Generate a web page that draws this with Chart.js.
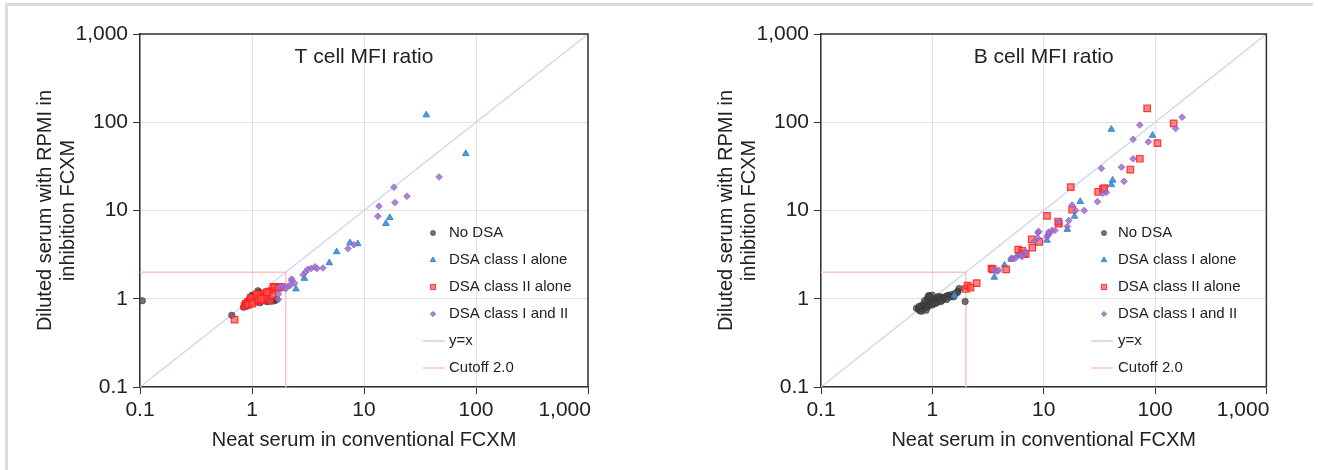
<!DOCTYPE html>
<html>
<head>
<meta charset="utf-8">
<script src="https://cdn.jsdelivr.net/npm/chart.js@4.4.1/dist/chart.umd.min.js"></script>
<style>
  body { margin: 0; background: #fff; }
  #page { position: relative; width: 1320px; height: 470px; overflow: hidden; }
  #frame { position: absolute; left: 5px; top: 3px; width: 1305px; height: 480px;
           border-left: 3px solid #dcdcdc; border-top: 3px solid #dcdcdc; }
  canvas { position: absolute; top: 0; }
</style>
</head>
<body>
<div id="page">
  <div id="frame"></div>
  <canvas id="tChart" width="660" height="470" style="left:0px"></canvas>
  <canvas id="bChart" width="639" height="470" style="left:681px"></canvas>
</div>
<script>

// axis ticks (same on both axes, both panels)
const tickValues = [0.1, 1, 10, 100, 1000];
const tickLabels = ['0.1', '1', '10', '100', '1,000'];

const legendLabels = ['No DSA', 'DSA class I alone', 'DSA class II alone', 'DSA class I and II', 'y=x', 'Cutoff 2.0'];
const cutoffValue = 2.0;

// ---- T cell MFI ratio ----
const tNoDsaX = [0.105, 0.66, 0.84, 0.86, 0.88, 0.9, 0.92, 0.95, 0.96, 0.98, 1.0, 1.0, 1.02, 1.05, 1.08, 1.1, 1.13, 1.16, 1.2, 1.25, 1.3, 1.35, 1.4, 1.45, 1.5, 1.55, 1.6, 1.66, 0.9, 0.94, 0.97, 1.03, 1.07, 1.12, 1.18, 1.22, 1.28];
const tNoDsaY = [0.95, 0.65, 0.8, 0.84, 0.82, 0.88, 0.86, 0.92, 1.04, 0.95, 1.1, 0.98, 1.02, 1.0, 1.06, 0.96, 1.23, 1.18, 1.05, 1.0, 1.1, 0.93, 0.93, 0.96, 0.94, 0.97, 0.95, 0.99, 0.9, 0.97, 1.0, 1.08, 0.92, 1.02, 0.9, 0.95, 1.02];

const tClass1X = [2.47, 2.93, 4.9, 5.7, 7.5, 8.8, 15.7, 17, 36, 81];
const tClass1Y = [1.29, 1.7, 2.55, 3.4, 4.3, 4.2, 7.1, 8.3, 121, 44];

const tClass2X = [0.70, 0.86, 0.88, 0.9, 0.92, 0.95, 0.97, 1.0, 1.02, 1.05, 1.08, 1.1, 1.12, 1.15, 1.18, 1.2, 1.25, 1.3, 1.35, 1.4, 1.45, 1.5, 1.52, 1.55, 1.6, 1.72, 1.84, 0.93, 0.98, 1.06, 1.14, 1.22, 1.28, 1.36, 1.0, 1.1, 1.2];
const tClass2Y = [0.58, 0.83, 0.88, 0.85, 0.92, 0.9, 0.96, 0.94, 1.0, 0.97, 1.05, 1.0, 1.08, 1.02, 1.1, 1.05, 1.12, 1.15, 1.1, 1.2, 0.95, 1.23, 1.1, 1.36, 1.36, 1.33, 1.36, 0.86, 1.02, 0.92, 0.98, 0.96, 1.03, 1.18, 0.88, 1.12, 1.0];

const tBothX = [1.72, 1.72, 1.78, 1.9, 2.1, 2.26, 2.4, 2.26, 2.2, 2.0, 2.86, 3.0, 3.14, 3.37, 3.65, 3.8, 4.3, 7.2, 8.1, 13.3, 13.6, 18.9, 18.5, 24.2, 46.8];
const tBothY = [0.98, 1.13, 1.36, 1.36, 1.39, 1.6, 1.5, 1.67, 1.42, 1.3, 1.87, 2.0, 2.16, 2.2, 2.3, 2.2, 2.23, 3.7, 4.1, 8.6, 11.2, 12.3, 18.4, 14.5, 24];

// ---- B cell MFI ratio ----
const bNoDsaX = [0.72, 0.75, 0.77, 0.78, 0.8, 0.82, 0.83, 0.85, 0.86, 0.88, 0.9, 0.91, 0.92, 0.94, 0.95, 0.97, 0.98, 1.0, 1.02, 1.04, 1.06, 1.08, 1.1, 1.12, 1.15, 1.18, 1.2, 1.25, 1.3, 1.35, 1.4, 1.5, 1.6, 1.7, 1.74, 1.68, 1.97, 0.94, 0.8, 0.87, 0.93, 0.99, 1.05, 1.13, 1.22, 0.76, 0.84, 0.9, 0.96, 1.01, 1.09, 1.16, 1.28, 1.45,
                 0.85, 0.9, 0.95, 1.0, 1.05, 0.8, 0.88, 1.1, 1.2, 1.0, 0.92, 1.35, 1.55];
const bNoDsaY = [0.78, 0.76, 0.73, 0.8, 0.78, 0.82, 0.76, 0.84, 0.8, 0.86, 0.85, 0.9, 0.82, 0.88, 0.92, 0.9, 0.95, 0.92, 0.98, 0.95, 1.0, 0.97, 1.02, 0.98, 1.04, 1.0, 1.05, 1.02, 1.05, 1.08, 1.1, 1.12, 1.15, 1.22, 1.31, 1.18, 0.93, 1.08, 0.84, 0.8, 0.94, 0.88, 0.93, 1.06, 0.96, 0.82, 0.88, 0.8, 0.86, 1.0, 0.92, 0.96, 1.0, 1.05,
                 0.95, 1.0, 1.05, 0.85, 0.88, 0.72, 0.74, 0.9, 0.93, 1.1, 1.08, 0.98, 1.05];

const bClass1X = [1.58, 3.6, 4.45, 5.1, 5.8, 10.7, 16.3, 18.9, 21.3, 40.5, 41.6, 40.5, 95];
const bClass1Y = [1.09, 1.75, 2.4, 2.8, 3.1, 4.6, 6.1, 8.6, 12.6, 19.6, 22, 83, 71];

const bClass2X = [2.0, 2.07, 2.2, 2.5, 3.4, 3.5, 4.6, 5.9, 6.4, 6.9, 6.6, 7.8, 9.1, 7.9, 10.7, 13.7, 13.5, 17.5, 18, 30.8, 34, 35, 60, 73, 85, 105, 147];
const bClass2Y = [1.29, 1.41, 1.34, 1.5, 2.2, 2.15, 2.15, 3.6, 3.5, 3.2, 3.25, 4.7, 4.4, 3.8, 8.7, 7.1, 7.5, 18.4, 10.2, 16.3, 17.5, 17.9, 29, 38.6, 144, 58, 97];

const bBothX = [3.6, 3.8, 3.95, 5.1, 5.3, 5.6, 6.2, 6.4, 6.9, 8.3, 8.8, 8.9, 9.0, 10.7, 10.9, 11.2, 11.1, 11.9, 12.6, 13.7, 16.3, 16.8, 18, 19.4, 23.1, 30.4, 33, 34, 36.6, 50, 52.6, 63.6, 63.6, 73, 87, 153, 175];
const bBothY = [2.1, 2.05, 2.1, 2.85, 2.85, 2.9, 3.1, 3.0, 3.4, 4.5, 4.9, 5.6, 5.8, 5.0, 5.3, 5.4, 5.7, 5.95, 5.95, 7.5, 6.6, 7.7, 11.5, 10, 10, 12.6, 30, 15.7, 16, 31, 21.4, 38.6, 64, 93, 60, 85, 114];


const FONT = '"Liberation Sans", Arial, sans-serif';

function toPoints(xs, ys) {
    return xs.map((x, i) => ({ x: x, y: ys[i] }));
}

function buildDatasets(noX, noY, c1X, c1Y, c2X, c2Y, bothX, bothY) {
    return [
        {
            label: legendLabels[0], data: toPoints(noX, noY), order: 4,
            pointStyle: 'circle', pointRadius: 3.2, borderWidth: 1,
            backgroundColor: 'rgba(70,70,70,0.75)', borderColor: 'rgba(50,50,50,0.55)'
        },
        {
            label: legendLabels[1], data: toPoints(c1X, c1Y), order: 3,
            pointStyle: 'triangle', pointRadius: 3.8, borderWidth: 1,
            backgroundColor: 'rgba(62,145,212,0.9)', borderColor: 'rgba(50,130,200,0.9)'
        },
        {
            label: legendLabels[2], data: toPoints(c2X, c2Y), order: 2,
            pointStyle: 'rect', pointRadius: 4.6, borderWidth: 1.2,
            backgroundColor: 'rgba(255,80,80,0.7)', borderColor: 'rgba(255,30,30,0.85)'
        },
        {
            label: legendLabels[3], data: toPoints(bothX, bothY), order: 1,
            pointStyle: 'rectRot', pointRadius: 3.3, borderWidth: 1,
            backgroundColor: 'rgba(160,110,205,0.85)', borderColor: 'rgba(145,95,195,0.8)'
        },
        {
            label: legendLabels[4], type: 'line', showLine: true, order: 10,
            data: [{ x: tickValues[0], y: tickValues[0] }, { x: tickValues[4], y: tickValues[4] }],
            borderColor: '#c4d4ec', borderWidth: 1.2, pointRadius: 0
        },
        {
            label: legendLabels[5], type: 'line', showLine: true, order: 9,
            data: [{ x: tickValues[0], y: cutoffValue }, { x: cutoffValue, y: cutoffValue }, { x: cutoffValue, y: tickValues[0] }],
            borderColor: '#ffc2c2', borderWidth: 1.5, pointRadius: 0
        }
    ];
}

function logAxis(isX) {
    return {
        type: 'logarithmic',
        position: isX ? 'bottom' : 'left',
        min: tickValues[0],
        max: tickValues[tickValues.length - 1],
        afterBuildTicks: (scale) => {
            scale.ticks = tickValues.map((v) => ({ value: v }));
        },
        afterFit: (scale) => {
            if (isX) scale.height = 83; else scale.width = 140;
        },
        ticks: {
            font: { family: FONT, size: 21 },
            color: '#222',
            padding: isX ? 4 : 5,
            autoSkip: false,
            maxRotation: 0,
            callback: (value, index) => {
                let lbl = tickLabels[index];
                // last x label sits flush with the plot's right edge in the original
                if (isX && index === tickLabels.length - 1) lbl += '        ';
                return lbl;
            }
        },
        grid: { color: '#e2e2e2', lineWidth: 1, tickColor: '#333', tickLength: 7, drawTicks: true },
        border: { color: '#333', width: 1.5 },
        title: isX ? {
            display: true, text: 'Neat serum in conventional FCXM', color: '#222',
            font: { family: FONT, size: 20, lineHeight: 1.2 }, padding: { top: 0, bottom: 18 }
        } : {
            display: true, text: ['Diluted serum with RPMI in', 'inhibition FCXM'], color: '#222',
            font: { family: FONT, size: 20, lineHeight: 1.15 }, padding: { top: 33.5, bottom: 0 }
        }
    };
}

// plot frame (top + right), panel title and the in-plot legend
const panelDecor = {
    id: 'panelDecor',
    afterDraw(chart, args, opts) {
        const ctx = chart.ctx;
        const a = chart.chartArea;
        ctx.save();
        ctx.strokeStyle = '#333';
        ctx.lineWidth = 1.5;
        ctx.beginPath();
        ctx.moveTo(a.left, a.top);
        ctx.lineTo(a.right, a.top);
        ctx.lineTo(a.right, a.bottom);
        ctx.stroke();

        ctx.fillStyle = '#222';
        ctx.font = '21px ' + FONT;
        ctx.textAlign = 'center';
        ctx.textBaseline = 'middle';
        ctx.fillText(opts.title, (a.left + a.right) / 2, a.top + 23);

        ctx.font = '15px ' + FONT;
        ctx.textAlign = 'left';
        chart.data.datasets.forEach((ds, i) => {
            const y = opts.legendY + i * opts.legendStep;
            if (ds.type === 'line') {
                ctx.strokeStyle = ds.borderColor;
                ctx.lineWidth = 1.5;
                ctx.beginPath();
                ctx.moveTo(opts.lineX0, y);
                ctx.lineTo(opts.lineX1, y);
                ctx.stroke();
            } else {
                ctx.fillStyle = ds.backgroundColor;
                ctx.strokeStyle = ds.borderColor;
                ctx.lineWidth = 1;
                Chart.helpers.drawPoint(ctx, {
                    pointStyle: ds.pointStyle, rotation: 0,
                    radius: ds.pointRadius * 0.8, borderWidth: 1
                }, opts.markerX, y);
            }
            ctx.fillStyle = '#222';
            ctx.fillText(ds.label, opts.textX, y);
        });
        ctx.restore();
    }
};

function makeChart(canvasId, title, datasets, legendPos) {
    const ctx = document.getElementById(canvasId).getContext('2d');
    return new Chart(ctx, {
        type: 'scatter',
        data: { datasets: datasets },
        plugins: [panelDecor],
        options: {
            responsive: false,
            animation: false,
            layout: { padding: { left: 0, top: 34, right: legendPos.padRight, bottom: 0 } },
            scales: { x: logAxis(true), y: logAxis(false) },
            plugins: {
                legend: { display: false },
                tooltip: { enabled: false },
                panelDecor: Object.assign({ title: title, legendY: 233, legendStep: 27 }, legendPos)
            }
        }
    });
}

makeChart('tChart', 'T cell MFI ratio',
    buildDatasets(tNoDsaX, tNoDsaY, tClass1X, tClass1Y, tClass2X, tClass2Y, tBothX, tBothY),
    { padRight: 72, markerX: 433, textX: 449, lineX0: 423, lineX1: 445 });

makeChart('bChart', 'B cell MFI ratio',
    buildDatasets(bNoDsaX, bNoDsaY, bClass1X, bClass1Y, bClass2X, bClass2Y, bBothX, bBothY),
    { padRight: 51, markerX: 423, textX: 437, lineX0: 410, lineX1: 432 });

</script>
</body>
</html>
